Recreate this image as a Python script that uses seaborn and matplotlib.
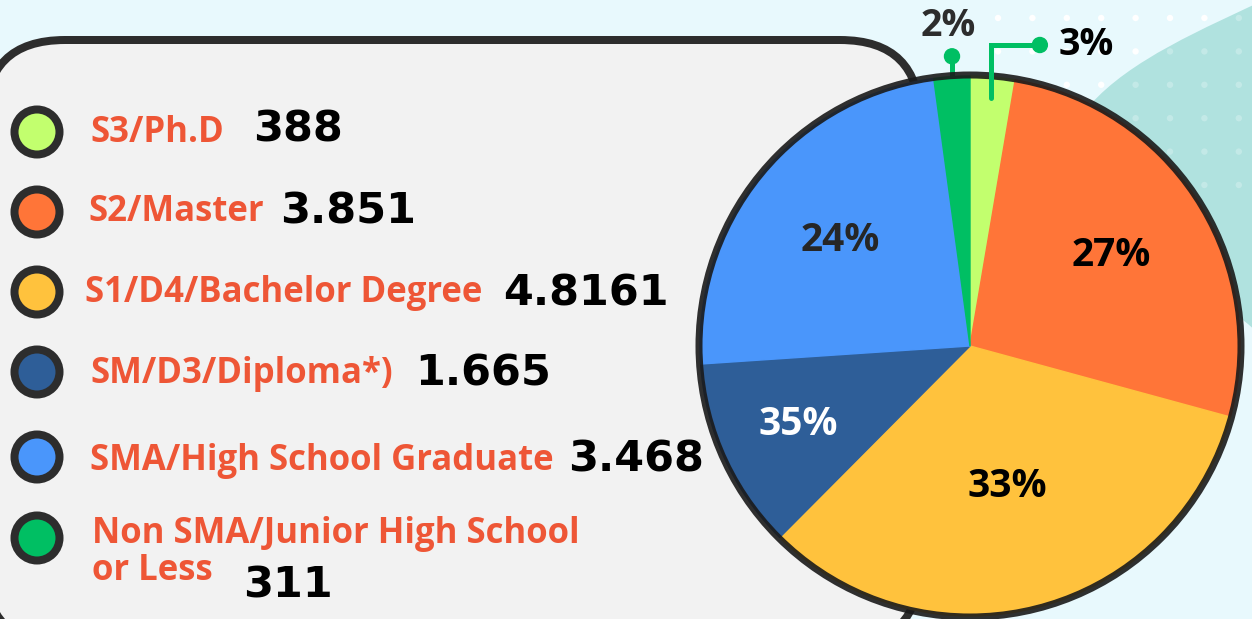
import numpy as np
import matplotlib
matplotlib.use("Agg")
import matplotlib.pyplot as plt
from matplotlib.patches import Circle, FancyBboxPatch, PathPatch
from matplotlib.path import Path
import seaborn as sns

# data
categories = ["S3/Ph.D", "S2/Master", "S1/D4/Bachelor Degree", "SM/D3/Diploma*)",
              "SMA/High School Graduate", "Non SMA/Junior High School\nor Less"]
counts = [388, 3851, 4816, 1665, 3468, 311]
count_labels = ["388", "3.851", "4.8161", "1.665", "3.468", "311"]
pct_labels = ["3%", "27%", "33%", "35%", "24%", "2%"]
colors = ["#C2FF6E", "#FF7538", "#FFC23D", "#2E5E98", "#4A96FB", "#00BF63"]
pct_colors = ["#000000", "#000000", "#000000", "#FFFFFF", "#262626", "#2D2D2D"]

W, H = 1252, 619
DPI = 100
PT = 72 / DPI  # points per pixel


def Y(y):
    return H - y


sns.set_theme(style="white")
plt.rcParams["font.family"] = ["Open Sans", "DejaVu Sans"]
BG = "#E8F9FD"
DARK = "#2D2D2D"

fig = plt.figure(figsize=(W / DPI, H / DPI), dpi=DPI)
fig.patch.set_facecolor(BG)
ax = fig.add_axes([0, 0, 1, 1])
ax.set_facecolor(BG)

# teal blob top right
verts = [(1275, Y(-5)), (1200, Y(30)), (1130, Y(60)), (1090, Y(105)),
         (1060, Y(250)), (1150, Y(262)), (1220, Y(290)), (1275, Y(350)),
         (1275, Y(-5))]
codes = [Path.MOVETO, Path.CURVE4, Path.CURVE4, Path.CURVE4, Path.LINETO,
         Path.CURVE4, Path.CURVE4, Path.CURVE4, Path.CLOSEPOLY]
blob = Path(verts, codes)
ax.add_patch(PathPatch(blob, facecolor="#B0E2DF", edgecolor="none", zorder=1))

# dot pattern
for gx in np.arange(998, 1262, 34.4):
    for gy in np.arange(18, 190, 33.4):
        inside = blob.contains_point((gx, Y(gy)))
        ax.add_patch(Circle((gx, Y(gy)), 3.2, facecolor="white", lw=0,
                            alpha=0.25 if inside else 1, zorder=2))

# legend box
ax.add_patch(FancyBboxPatch((-15, Y(645)), 935, 605,
                            boxstyle="round,pad=0,rounding_size=80",
                            facecolor="#F2F2F2", edgecolor=DARK, lw=8 * PT, zorder=3))

# pie
cx, cy, R = 970, Y(346), 270
wedges, _ = ax.pie(counts, colors=colors, startangle=90, counterclock=False,
                   center=(cx, cy), radius=R, frame=True,
                   wedgeprops=dict(linewidth=1))
for w in wedges:
    w.set_edgecolor(w.get_facecolor())
    w.set_zorder(4)
ax.add_patch(Circle((cx, cy), R + 1, fill=False, edgecolor=(0.1, 0.1, 0.1, 0.9),
                    lw=7 * PT, zorder=5))

pct_dist = [0, 0.62, 0.54, 0.70, 0.62, 0]
for i in [1, 2, 3, 4]:
    w = wedges[i]
    mid = np.deg2rad((w.theta1 + w.theta2) / 2)
    d = pct_dist[i] * R
    ax.text(cx + d * np.cos(mid), cy + d * np.sin(mid), pct_labels[i],
            ha="center", va="center", fontsize=28, fontweight="bold",
            color=pct_colors[i], zorder=6)

GREEN = "#00BF63"
# 3% callout
w = wedges[0]
mid = np.deg2rad((w.theta1 + w.theta2) / 2)
ax0, ay0 = cx + 0.92 * R * np.cos(mid), cy + 0.92 * R * np.sin(mid)
ax.plot([ax0, ax0, ax0 + 49], [ay0, Y(45), Y(45)], color=GREEN, lw=5 * PT,
        solid_joinstyle="miter", zorder=7)
ax.add_patch(Circle((ax0 + 49, Y(45)), 7.5, color=GREEN, zorder=7))
ax.text(ax0 + 68, Y(45), pct_labels[0], ha="left", va="center", fontsize=27,
        fontweight="bold", color=pct_colors[0], zorder=7)

# 2% callout
w = wedges[5]
mid = np.deg2rad((w.theta1 + w.theta2) / 2)
bx0, by0 = cx + 0.99 * R * np.cos(mid), cy + 0.99 * R * np.sin(mid)
ax.plot([bx0, bx0], [by0, by0 + 23], color=GREEN, lw=5 * PT, zorder=3.5)
ax.add_patch(Circle((bx0, by0 + 23), 7.5, color=GREEN, zorder=3.5))
ax.text(bx0 - 4, by0 + 53, pct_labels[5], ha="center", va="center", fontsize=27,
        fontweight="bold", color=pct_colors[5], zorder=7)

# legend rows
marker_y = [132, 212, 292, 372, 457, 538]
label_x = [90, 88, 85, 90, 90, 92]
label_base = [142, 221, 302, 383, 470, 543]
value_x = [253, 280, 503, 415, 568, 243]
value_base = [142, 224, 305, 385, 472, 597]
LINE_STEP = 37

for i, cat in enumerate(categories):
    ax.add_patch(Circle((37, Y(marker_y[i])), 22.5, facecolor=colors[i],
                        edgecolor=DARK, lw=8 * PT, zorder=6))
    for k, line in enumerate(cat.split("\n")):
        ax.text(label_x[i], Y(label_base[i] + k * LINE_STEP), line, ha="left",
                va="baseline", fontsize=25, fontweight="bold", color="#EE5636",
                zorder=6)
    ax.text(value_x[i], Y(value_base[i]), count_labels[i], ha="left",
            va="baseline", fontsize=31, fontweight="bold", color="black",
            family=["DejaVu Sans"], zorder=6)

ax.set_xlim(0, W)
ax.set_ylim(0, H)
ax.set_aspect("equal")
ax.set_axis_off()

fig.savefig("out.png", dpi=DPI, facecolor=BG)
